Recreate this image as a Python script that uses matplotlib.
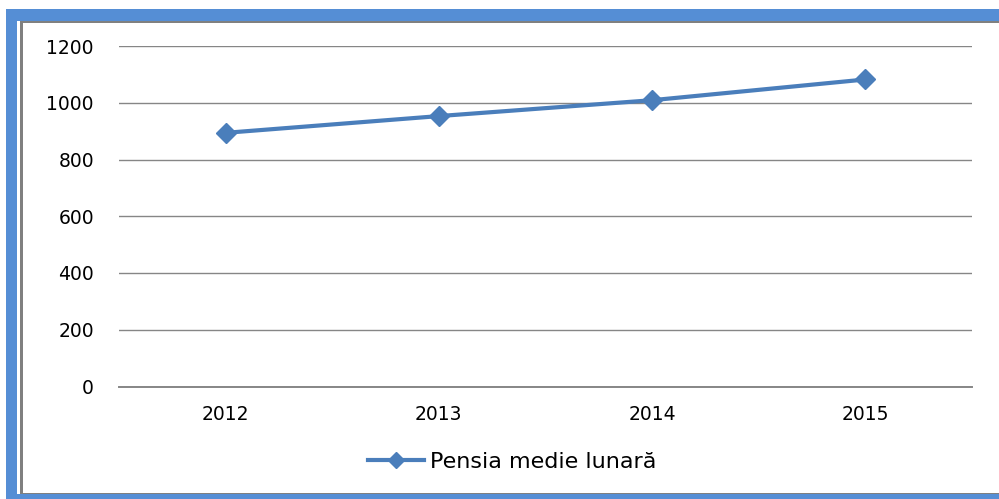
import matplotlib.pyplot as plt
from matplotlib.patches import Rectangle

plt.rcParams['font.family'] = ['DejaVu Sans']

years = ['2012', '2013', '2014', '2015']
pensia = [894, 953, 1009, 1082]
yticks = [0, 200, 400, 600, 800, 1000, 1200]

W, H = 999, 499
blue = '#558ED5'
line_blue = '#4A7EBB'
grey = '#868686'

fig = plt.figure(figsize=(W / 100, H / 100), dpi=100)


def px_rect(x0, y0, x1, y1, color):
    # rectangle given in image pixels (origin top-left)
    fig.add_artist(Rectangle((x0 / W, 1 - y1 / H), (x1 - x0) / W, (y1 - y0) / H,
                             transform=fig.transFigure, facecolor=color,
                             edgecolor='none', zorder=0))


# outer blue frame (left, top, bottom) and inner grey border
px_rect(6, 9, 17, 499, blue)
px_rect(6, 9, 999, 21, blue)
px_rect(6, 494, 999, 499, blue)
px_rect(20, 21, 23, 493, '#808080')
px_rect(20, 21, 999, 22.5, '#808080')
px_rect(20, 492.5, 999, 494, '#808080')

ax = fig.add_axes([119 / W, 1 - 386.5 / H, (972 - 119) / W, (386.5 - 46) / H])
x = range(len(years))
ax.plot(x, pensia, color=line_blue, lw=3.0, marker='D', markersize=10,
        label='Pensia medie lunară', zorder=3)

ax.set_xlim(-0.5, len(years) - 0.5)
ax.set_ylim(0, 1200)
ax.set_yticks(yticks)
ax.set_xticks(list(x))
ax.set_xticklabels(years)
ax.yaxis.grid(True, color=grey, lw=1.0)
ax.set_axisbelow(True)
for s in ['top', 'right', 'left']:
    ax.spines[s].set_visible(False)
ax.spines['bottom'].set_color(grey)
ax.spines['bottom'].set_linewidth(1.4)
ax.tick_params(axis='y', length=0, pad=18, labelsize=13.5)
ax.tick_params(axis='x', length=0, pad=13, labelsize=13.5)

fig.legend(loc='center', bbox_to_anchor=(512 / W, 1 - 462 / H), frameon=False,
           fontsize=16, handlelength=2.5, handletextpad=0.27, markerscale=0.8)

fig.savefig('out.png', dpi=100)
